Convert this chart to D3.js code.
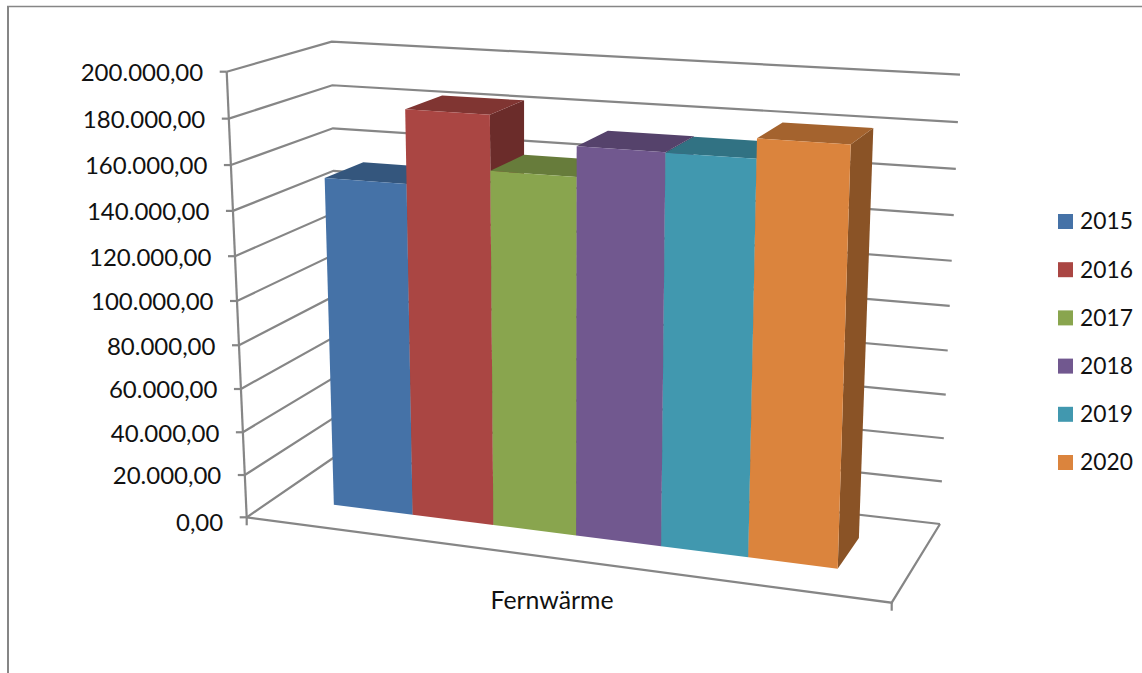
<!DOCTYPE html>
<html lang="de">
<head>
<meta charset="utf-8">
<title>Fernwärme 2015–2020</title>
<script src="https://cdn.jsdelivr.net/npm/d3@7/dist/d3.min.js"></script>
<style>
  html, body { margin: 0; padding: 0; background: #fff; }
  svg { display: block; }
  text { font-family: Lato, "Open Sans", sans-serif; fill: #111; }
</style>
</head>
<body>
<svg id="chart" width="1142" height="673"></svg>
<script>
// Chart values
const category = "Fernwärme";
const years = ["2015", "2016", "2017", "2018", "2019", "2020"];
const heatValues = [151000, 183400, 159400, 172400, 172200, 180600];
const seriesColors = ["#4572A7", "#AA4643", "#89A54E", "#71588F", "#4198AF", "#DB843D"];
const valueTicks = [0, 20000, 40000, 60000, 80000, 100000, 120000, 140000, 160000, 180000, 200000];

// Screen position of the plot cube corners: floor plane and the 200.000 plane
const floor = { fl: [246.7, 517.3], fr: [891.7, 602.7], bl: [337.5, 455], br: [940, 524] };
const ceiling = { fl: [226.7, 71.7], fr: [909, 112.3], bl: [331.7, 41.7], br: [960, 74.7] };

const AXIS_GRAY = "#868686";
const TOP_SHADE = 0.75;
const SIDE_SHADE = 0.63;

const svg = d3.select("#chart");
const deLocale = d3.formatLocale({ decimal: ",", thousands: ".", grouping: [3], currency: ["", " €"] });
const fmt = deLocale.format(",.2f");

// Foreshortening: equal steps get slightly longer toward the viewer
const foreshorten = k => t => t / (1 + k * (1 - t));
const warpValue = foreshorten(0.06);
const warpWidth = foreshorten(0.1);

const valueScale = d3.scaleLinear().domain([0, 200000]).range([0, 1]);
const band = d3.scaleBand().domain(years).range([0.1003, 0.899]);
const barDepth = { front: 0.32, back: 0.72 };

function planePoint(plane, u, w) {
  const front = d3.interpolateNumberArray(plane.fl, plane.fr)(u);
  const back = d3.interpolateNumberArray(plane.bl, plane.br)(u);
  return d3.interpolateNumberArray(front, back)(w);
}

// u: across the categories (0..1), value: data value, w: depth (0 front, 1 back)
function project(u, value, w) {
  const low = planePoint(floor, u, w);
  const high = planePoint(ceiling, u, w);
  return d3.interpolateNumberArray(low, high)(warpValue(valueScale(value)));
}

const line = d3.line();
const shade = (color, f) => {
  const c = d3.rgb(color);
  return d3.rgb(c.r * f, c.g * f, c.b * f).formatHex();
};

// Outer frame, open at the right and bottom
const frame = svg.append("g").attr("fill", "none").attr("stroke", AXIS_GRAY);
frame.append("path").attr("stroke-width", 2).attr("d", line([[8, 673], [8, 6]]));
frame.append("path").attr("stroke-width", 1.5).attr("d", line([[7, 6.6], [1142, 6.6]]));

// Walls: gridlines on the left and the back wall
const grid = svg.append("g").attr("fill", "none").attr("stroke", AXIS_GRAY).attr("stroke-width", 2.2);
grid.selectAll("path.wall").data(valueTicks).join("path").attr("class", "wall")
  .attr("d", v => line([project(0, v, 0), project(0, v, 1), project(1, v, 1)]));

// Floor outline and the value axis
grid.append("path").attr("d", line([project(0, 0, 0), project(1, 0, 0), project(1, 0, 1)]));
grid.append("path").attr("d", line([project(0, 0, 0), project(0, 200000, 0)]));

// Axis tick marks and the category tick marks below the floor
grid.selectAll("path.tick").data(valueTicks).join("path").attr("class", "tick")
  .attr("d", v => { const p = project(0, v, 0); return line([p, [p[0] - 7, p[1]]]); });
[0, 1].forEach(u => {
  const p = project(u, 0, 0);
  grid.append("path").attr("d", line([p, [p[0], p[1] + 8]]));
});

// Value labels follow the slant of the axis
svg.append("g").attr("font-size", 24).attr("text-anchor", "end")
  .selectAll("text").data(valueTicks).join("text")
  .attr("x", v => project(0, v, 0)[0] - 23.5)
  .attr("y", v => project(0, v, 0)[1] + (v === 0 ? 5 : 1))
  .attr("dy", "0.35em")
  .text(v => fmt(v));

// Bars, left to right so each one overlaps its neighbour's side face
const bars = svg.append("g").selectAll("g").data(years).join("g");
bars.each(function (year, i) {
  const g = d3.select(this);
  const val = heatValues[i];
  const u0 = warpWidth(band(year));
  const u1 = warpWidth(band(year) + band.bandwidth());
  const { front: f, back: b } = barDepth;
  const face = pts => line(pts) + "Z";
  g.append("path").attr("fill", shade(seriesColors[i], SIDE_SHADE))
    .attr("d", face([project(u1, 0, f), project(u1, 0, b), project(u1, val, b), project(u1, val, f)]));
  g.append("path").attr("fill", shade(seriesColors[i], TOP_SHADE))
    .attr("d", face([project(u0, val, f), project(u1, val, f), project(u1, val, b), project(u0, val, b)]));
  g.append("path").attr("fill", seriesColors[i])
    .attr("d", face([project(u0, 0, f), project(u1, 0, f), project(u1, val, f), project(u0, val, f)]));
});

// Category label
svg.append("text").attr("x", 552).attr("y", 609).attr("text-anchor", "middle")
  .attr("font-size", 24.8).text(category);

// Legend
const legendY = d3.scalePoint().domain(years).range([221.5, 462.5]);
const legend = svg.append("g").selectAll("g").data(years).join("g")
  .attr("transform", y => `translate(1058,${legendY(y)})`);
legend.append("rect").attr("x", 0).attr("y", -7.5).attr("width", 15).attr("height", 15)
  .attr("fill", (y, i) => seriesColors[i]);
legend.append("text").attr("x", 22).attr("y", 0).attr("dy", "0.35em").attr("font-size", 22.8).text(y => y);
</script>
</body>
</html>
